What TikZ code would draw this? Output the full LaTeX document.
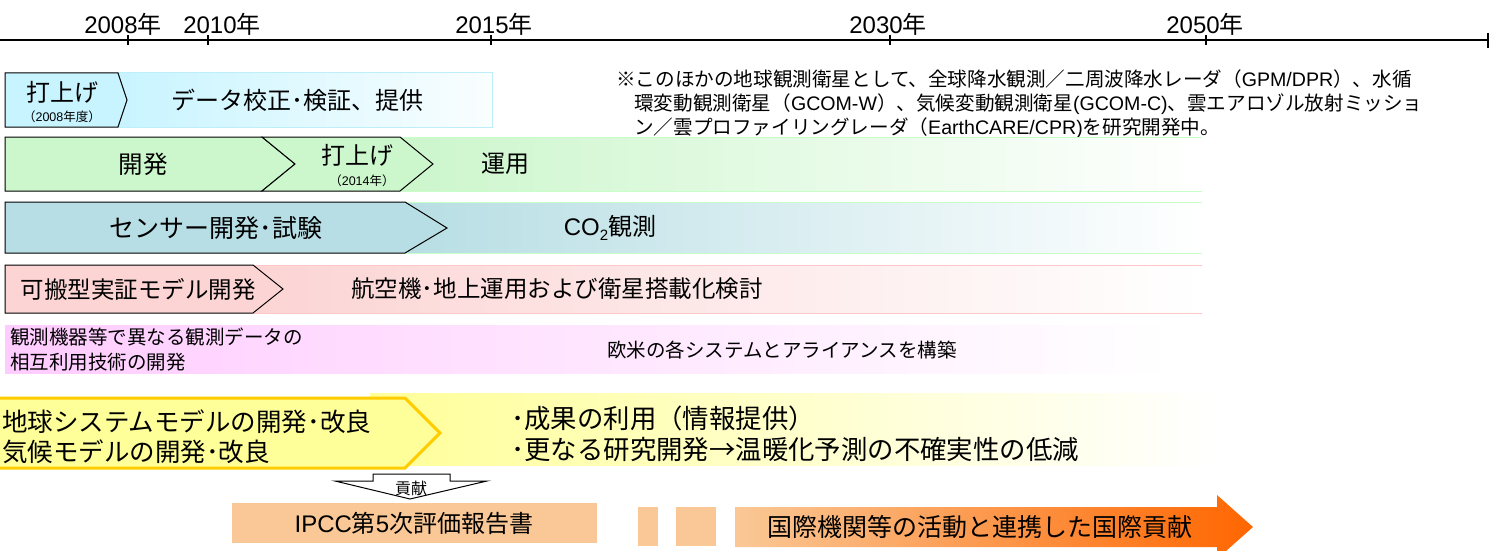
\documentclass[tikz,border=0pt]{standalone}
\usepackage{fontspec}
\setmainfont{Noto Sans CJK JP}
\newfontfamily\lat{Liberation Sans}
\definecolor{cyanF}{RGB}{200,244,255}
\definecolor{cyanL}{RGB}{190,238,250}
\definecolor{greenF}{RGB}{204,246,204}
\definecolor{greenL}{RGB}{200,255,200}
\definecolor{tealF}{RGB}{183,222,228}
\definecolor{pinkF}{RGB}{252,212,212}
\definecolor{pinkL}{RGB}{255,200,200}
\definecolor{magF}{RGB}{255,204,255}
\definecolor{yelF}{RGB}{255,255,153}
\definecolor{gold}{RGB}{255,204,0}
\definecolor{peach}{RGB}{250,200,150}
\definecolor{orangeR}{RGB}{255,102,0}
\begin{document}
\begin{tikzpicture}[x=1pt,y=-1pt,
  fs/.style={font=\fontsize{#1}{#1}\selectfont},
  lbl/.style={inner sep=0pt},
  axis/.style={line width=1.7pt},
  tagbox/.style={draw=black, line width=1pt},
  bandline/.style={line width=1pt}]
\useasboundingbox (0,0) rectangle (1489,551);
% ---- timeline
\coordinate (tl0) at (0,40);
\coordinate (tl1) at (1488,40);
\draw[axis] (tl0) -- (tl1);
\foreach \x in {128,208,491,890,1206} \draw[axis] (\x,35) -- (\x,45);
\draw[axis] (1488,33) -- (1488,48);
\node[lbl,fs=24] (y2008) at (123,24) {{\lat 2008}年};
\node[lbl,fs=24] (y2010) at (222,24) {{\lat 2010}年};
\node[lbl,fs=24] (y2015) at (494,24) {{\lat 2015}年};
\node[lbl,fs=24] (y2030) at (888,24) {{\lat 2030}年};
\node[lbl,fs=24] (y2050) at (1205,24) {{\lat 2050}年};
% ---- note
\node[lbl,fs=19.6,anchor=west] (note1) at (616,79) {※このほかの地球観測衛星として、全球降水観測／二周波降水レーダ（{\lat GPM/DPR}）、水循};
\node[lbl,fs=19.6,anchor=west] (note2) at (634,104) {環変動観測衛星（{\lat GCOM-W}）、気候変動観測衛星{\lat (GCOM-C)}、雲エアロゾル放射ミッショ};
\node[lbl,fs=19.6,anchor=west] (note3) at (634,128) {ン／雲プロファイリングレーダ（{\lat EarthCARE/CPR)}を研究開発中。};
% ---- row 1
\shade[left color=cyanF, right color=white!90!cyanF] (118,73) rectangle (492,127);
\draw[cyanL,bandline] (118,73) rectangle (492,127);
\filldraw[tagbox,fill=cyanF] (5,73) -- (118,73) -- (127,100) -- (118,127) -- (5,127) -- cycle;
\node[lbl,fs=24] (r1a) at (63,92) {打上げ};
\node[lbl,fs=12.5] (r1b) at (62,117) {（{\lat 2008}年度）};
\node[lbl,fs=24] (r1c) at (297,100) {データ校正･検証、提供};
% ---- row 2
\shade[left color=greenF, right color=white] (400,137) rectangle (1202,191);
\draw[greenL,bandline] (400,137) -- (1202,137) (400,191) -- (1202,191);
\filldraw[tagbox,fill=greenF] (5,137) -- (262,137) -- (295,164) -- (262,191) -- (5,191) -- cycle;
\filldraw[tagbox,fill=greenF] (262,137) -- (400,137) -- (433,164) -- (400,191) -- (262,191) -- (295,164) -- cycle;
\node[lbl,fs=24.5] (r2a) at (143,164) {開発};
\node[lbl,fs=24] (r2b) at (357,155) {打上げ};
\node[lbl,fs=12.5] (r2c) at (362,181) {（{\lat 2014}年）};
\node[lbl,fs=24] (r2d) at (505,164) {運用};
% ---- row 3
\shade[left color=tealF, right color=white] (405,202) rectangle (1202,253);
\draw[greenL,bandline] (405,202) -- (1202,202) (405,253) -- (1202,253);
\filldraw[tagbox,fill=tealF] (5,202) -- (405,202) -- (447,228) -- (405,253) -- (5,253) -- cycle;
\node[lbl,fs=25] (r3a) at (216,228) {センサー開発･試験};
\node[lbl,fs=24] (r3b) at (610,228) {{\lat CO\raisebox{-0.45ex}{\fontsize{15}{15}\selectfont 2}}観測};
% ---- row 4
\shade[left color=pinkF, right color=white] (253,265) rectangle (1202,313);
\draw[pinkL,bandline] (253,265) -- (1202,265) (253,313) -- (1202,313);
\filldraw[tagbox,fill=pinkF] (5,265) -- (253,265) -- (283,289) -- (253,313) -- (5,313) -- cycle;
\node[lbl,fs=23.5] (r4a) at (138,289) {可搬型実証モデル開発};
\node[lbl,fs=23.5] (r4b) at (557,289) {航空機･地上運用および衛星搭載化検討};
% ---- row 5
\shade[left color=magF, right color=white] (5,325) rectangle (1170,373);
\node[lbl,fs=19.5,anchor=west] (r5a) at (10,337) {観測機器等で異なる観測データの};
\node[lbl,fs=19.5,anchor=west] (r5b) at (10,362) {相互利用技術の開発};
\node[lbl,fs=19.5] (r5c) at (782,350) {欧米の各システムとアライアンスを構築};
% ---- row 6
\shade[left color=yelF, right color=white] (370,393) rectangle (1215,465);
\filldraw[draw=gold,line width=3pt,fill=yelF] (-5,398) -- (405,398) -- (440,433) -- (405,468) -- (-5,468) -- cycle;
\node[lbl,fs=25.5,anchor=west] (r6a) at (2,422) {地球システムモデルの開発･改良};
\node[lbl,fs=25.5,anchor=west] (r6b) at (2,452) {気候モデルの開発･改良};
\node[lbl,fs=26.4,anchor=west] (r6c) at (511,418) {･成果の利用（情報提供）};
\node[lbl,fs=26.4,anchor=west] (r6d) at (511,450) {･更なる研究開発→温暖化予測の不確実性の低減};
% ---- contribution arrow
\draw[line width=1pt,fill=white] (373,474) -- (450,474) -- (450,481) -- (487,481) -- (410,499) -- (335,481) -- (373,481) -- cycle;
\node[lbl,fs=16] (kk) at (411,488) {貢献};
% ---- bottom
\fill[peach] (232,503) rectangle (597,543);
\node[lbl,fs=24] (ipcc) at (414,523) {{\lat IPCC}第{\lat 5}次評価報告書};
\fill[peach] (638,507) rectangle (658,546);
\fill[peach] (676,507) rectangle (716,546);
\shade[left color=peach, right color=orangeR] (735,507) -- (1217,507) -- (1217,495) -- (1253,527) -- (1217,559) -- (1217,547) -- (735,547) -- cycle;
\node[lbl,fs=25] (intl) at (980,527) {国際機関等の活動と連携した国際貢献};
\end{tikzpicture}
\end{document}
